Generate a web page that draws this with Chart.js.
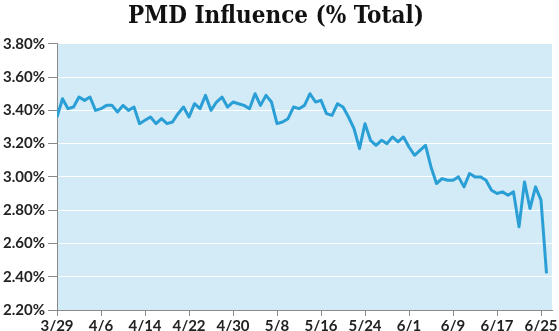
<!DOCTYPE html>
<html>
<head>
<meta charset="utf-8">
<script src="https://cdn.jsdelivr.net/npm/chart.js@4.4.1/dist/chart.umd.min.js"></script>
<style>
  html, body { margin: 0; padding: 0; background: #fff; }
  #wrap { width: 559px; height: 331px; position: relative; }
</style>
</head>
<body>
<div id="wrap"><canvas id="pmdChart"></canvas></div>
<script>
// daily dates, 3/29 through 6/26
const dates = [
  "3/29", "3/30", "3/31",
  "4/1", "4/2", "4/3", "4/4", "4/5", "4/6", "4/7", "4/8", "4/9", "4/10",
  "4/11", "4/12", "4/13", "4/14", "4/15", "4/16", "4/17", "4/18", "4/19", "4/20",
  "4/21", "4/22", "4/23", "4/24", "4/25", "4/26", "4/27", "4/28", "4/29", "4/30",
  "5/1", "5/2", "5/3", "5/4", "5/5", "5/6", "5/7", "5/8", "5/9", "5/10",
  "5/11", "5/12", "5/13", "5/14", "5/15", "5/16", "5/17", "5/18", "5/19", "5/20",
  "5/21", "5/22", "5/23", "5/24", "5/25", "5/26", "5/27", "5/28", "5/29", "5/30", "5/31",
  "6/1", "6/2", "6/3", "6/4", "6/5", "6/6", "6/7", "6/8", "6/9", "6/10",
  "6/11", "6/12", "6/13", "6/14", "6/15", "6/16", "6/17", "6/18", "6/19", "6/20",
  "6/21", "6/22", "6/23", "6/24", "6/25", "6/26"
];

// PMD influence, % of total
const influence = [
  3.36, 3.47, 3.41, 3.42, 3.48, 3.46, 3.48, 3.40, 3.41, 3.43,
  3.43, 3.39, 3.43, 3.40, 3.42, 3.32, 3.34, 3.36, 3.32, 3.35,
  3.32, 3.33, 3.38, 3.42, 3.36, 3.44, 3.41, 3.49, 3.40, 3.45,
  3.48, 3.42, 3.45, 3.44, 3.43, 3.41, 3.50, 3.43, 3.49, 3.45,
  3.32, 3.33, 3.35, 3.42, 3.41, 3.43, 3.50, 3.45, 3.46, 3.38,
  3.37, 3.44, 3.42, 3.36, 3.29, 3.17, 3.32, 3.22, 3.19, 3.22,
  3.20, 3.24, 3.21, 3.24, 3.18, 3.13, 3.16, 3.19, 3.06, 2.96,
  2.99, 2.98, 2.98, 3.00, 2.94, 3.02, 3.00, 3.00, 2.98, 2.92,
  2.90, 2.91, 2.89, 2.91, 2.70, 2.97, 2.81, 2.94, 2.86, 2.42
];

// x ticks every 8th day, y ticks every 0.2%
const xTickDays = [0, 8, 16, 24, 32, 40, 48, 56, 64, 72, 80, 88];
const yTicks = [2.2, 2.4, 2.6, 2.8, 3.0, 3.2, 3.4, 3.6, 3.8];

const AXIS_GREY = "#8a8a8a";
const LABEL_FONT = { family: "Lato", size: 15, weight: "bold" };

// light blue fill behind the plot
const plotBackground = {
  id: "plotBackground",
  beforeDraw(chart) {
    const { ctx, chartArea } = chart;
    ctx.save();
    ctx.fillStyle = "#d3eaf7";
    ctx.fillRect(chartArea.left, chartArea.top,
      chartArea.right - chartArea.left, chartArea.bottom - chartArea.top);
    ctx.restore();
  },
};

new Chart(document.getElementById("pmdChart"), {
  type: "line",
  data: {
    datasets: [
      {
        label: "PMD Influence",
        data: influence.map((v, i) => ({ x: i, y: v })),
        borderColor: "#2a9fd6",
        borderWidth: 3,
        pointRadius: 0,
        tension: 0,
        borderJoinStyle: "round",
      },
    ],
  },
  options: {
    responsive: true,
    maintainAspectRatio: false,
    animation: false,
    layout: { padding: { left: 0, right: 7, top: 0, bottom: 0 } },
    plugins: {
      legend: { display: false },
      tooltip: { enabled: false },
      title: {
        display: true,
        text: "PMD Influence (% Total)",
        color: "#111",
        font: { family: "'DejaVu Serif Condensed', 'DejaVu Serif'", size: 24, weight: "bold" },
        padding: { top: 2, bottom: 13 },
      },
    },
    scales: {
      x: {
        type: "linear",
        min: 0,
        max: dates.length,
        border: { color: AXIS_GREY, width: 1 },
        grid: {
          drawOnChartArea: false,
          drawTicks: true,
          tickLength: 6,
          tickColor: AXIS_GREY,
        },
        afterBuildTicks: (scale) => {
          scale.ticks = xTickDays.map((d) => ({ value: d }));
        },
        ticks: {
          autoSkip: false,
          maxRotation: 0,
          padding: 1,
          color: "#222",
          font: LABEL_FONT,
          callback: (v) => dates[v],
        },
        afterFit: (scale) => { scale.height = 21; },
      },
      y: {
        min: yTicks[0],
        max: yTicks[yTicks.length - 1],
        border: { color: AXIS_GREY, width: 1 },
        grid: {
          color: "#ffffff",
          lineWidth: 1,
          tickLength: 9,
          tickColor: AXIS_GREY,
        },
        afterBuildTicks: (scale) => {
          scale.ticks = yTicks.map((v) => ({ value: v }));
        },
        ticks: {
          padding: 3,
          color: "#222",
          font: LABEL_FONT,
          callback: (v) => v.toFixed(2) + "%",
        },
        afterFit: (scale) => { scale.width = 57; },
      },
    },
  },
  plugins: [plotBackground],
});
</script>
</body>
</html>
